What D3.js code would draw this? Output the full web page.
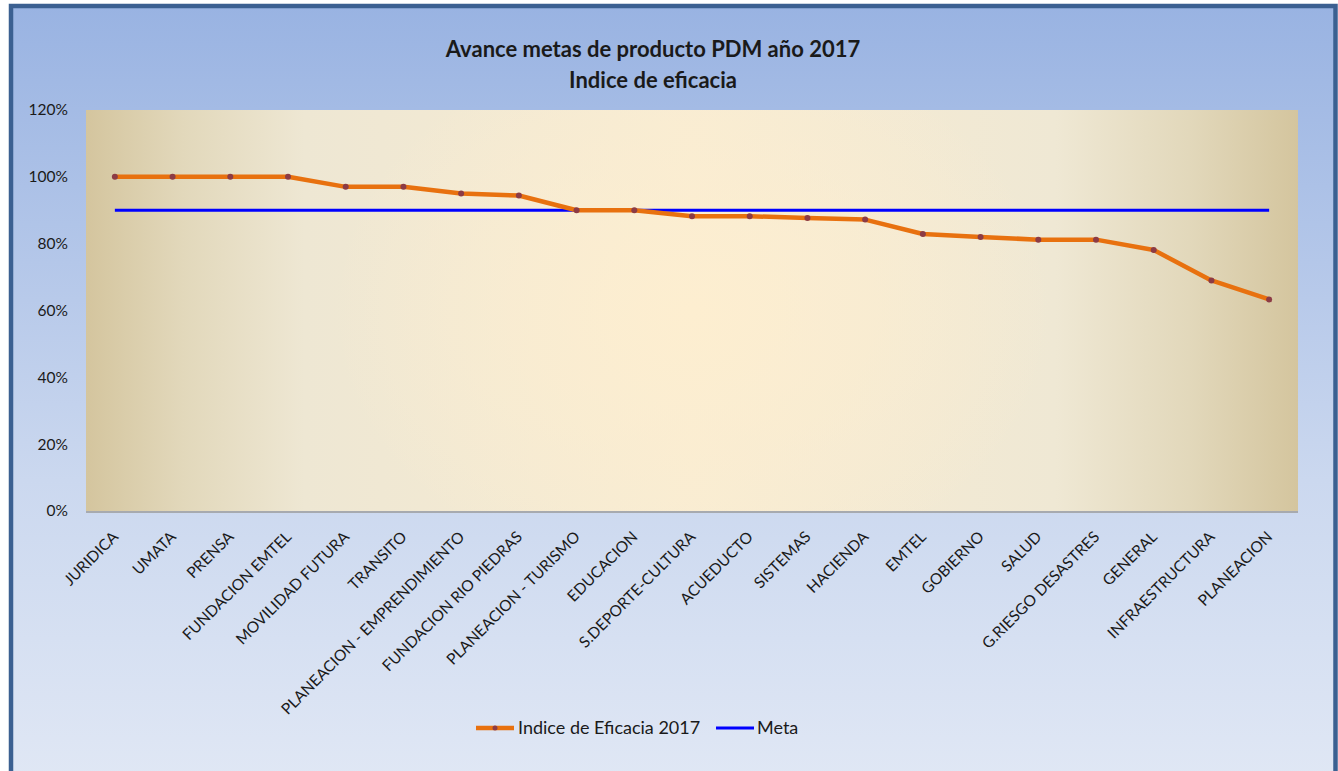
<!DOCTYPE html>
<html>
<head>
<meta charset="utf-8">
<script src="https://cdn.jsdelivr.net/npm/d3@7"></script>
<style>
  html, body { margin: 0; padding: 0; background: #fff; }
  svg { display: block; }
  text { font-family: Lato, "Open Sans", sans-serif; fill: #1a1a1a; }
</style>
</head>
<body>
<svg width="1338" height="771"></svg>
<script>
var categories = ["JURIDICA", "UMATA", "PRENSA", "FUNDACION EMTEL", "MOVILIDAD FUTURA", "TRANSITO",
  "PLANEACION - EMPRENDIMIENTO", "FUNDACION RIO PIEDRAS", "PLANEACION - TURISMO", "EDUCACION",
  "S.DEPORTE-CULTURA", "ACUEDUCTO", "SISTEMAS", "HACIENDA", "EMTEL", "GOBIERNO", "SALUD",
  "G.RIESGO DESASTRES", "GENERAL", "INFRAESTRUCTURA", "PLANEACION"];
var eficacia = [1.00, 1.00, 1.00, 1.00, 0.97, 0.97, 0.95, 0.944, 0.90, 0.90,
  0.882, 0.882, 0.877, 0.872, 0.829, 0.82, 0.812, 0.812, 0.781, 0.69, 0.633];
var meta = categories.map(function() { return 0.90; });
var yTicks = [0, 0.2, 0.4, 0.6, 0.8, 1.0, 1.2];
var titleLines = ["Avance metas de producto PDM año 2017", "Indice de eficacia"];
var seriesNames = ["Indice de Eficacia 2017", "Meta"];

var svg = d3.select("svg");
var defs = svg.append("defs");

// chart area background: vertical blue gradient
var bg = defs.append("linearGradient").attr("id", "bg")
    .attr("x1", 0).attr("y1", 0).attr("x2", 0).attr("y2", 1);
bg.append("stop").attr("offset", "0%").attr("stop-color", "#99b3e2");
bg.append("stop").attr("offset", "60%").attr("stop-color", "#cbd8ef");
bg.append("stop").attr("offset", "100%").attr("stop-color", "#e1e8f5");

// plot area: tan at the sides, cream towards the middle
var pg = defs.append("linearGradient").attr("id", "plotbg")
    .attr("x1", 0).attr("y1", 0).attr("x2", 1).attr("y2", 0);
pg.append("stop").attr("offset", "0%").attr("stop-color", "#d4c59e");
pg.append("stop").attr("offset", "8%").attr("stop-color", "#e2d8bb");
pg.append("stop").attr("offset", "18%").attr("stop-color", "#eee7d3");
pg.append("stop").attr("offset", "50%").attr("stop-color", "#f8ecd3");
pg.append("stop").attr("offset", "80%").attr("stop-color", "#efe8d4");
pg.append("stop").attr("offset", "91%").attr("stop-color", "#e2d8bb");
pg.append("stop").attr("offset", "100%").attr("stop-color", "#d4c59e");

var hl = defs.append("radialGradient").attr("id", "plothl")
    .attr("cx", 0.5).attr("cy", 0.5).attr("r", 0.5)
    .attr("gradientTransform", "translate(0.5,0.5) scale(0.6,1.4) translate(-0.5,-0.5)");
hl.append("stop").attr("offset", "0%").attr("stop-color", "#fdeed0").attr("stop-opacity", 1);
hl.append("stop").attr("offset", "100%").attr("stop-color", "#fdeed0").attr("stop-opacity", 0);

svg.append("rect")
    .attr("x", 11).attr("y", 6).attr("width", 1324.5).attr("height", 790)
    .attr("fill", "url(#bg)")
    .attr("stroke", "#3b6091").attr("stroke-width", 4.5);

var plot = { left: 86, top: 110, right: 1298, bottom: 511 };

var x = d3.scalePoint()
    .domain(categories)
    .range([plot.left, plot.right])
    .padding(0.5);

var y = d3.scaleLinear()
    .domain([0, 1.2])
    .range([plot.bottom, plot.top]);

svg.append("rect")
    .attr("x", plot.left).attr("y", plot.top)
    .attr("width", plot.right - plot.left).attr("height", plot.bottom - plot.top)
    .attr("fill", "url(#plotbg)");
svg.append("rect")
    .attr("x", plot.left).attr("y", plot.top)
    .attr("width", plot.right - plot.left).attr("height", plot.bottom - plot.top)
    .attr("fill", "url(#plothl)");

// bottom axis line
svg.append("line")
    .attr("x1", plot.left).attr("x2", plot.right)
    .attr("y1", plot.bottom + 1).attr("y2", plot.bottom + 1)
    .attr("stroke", "#9a9a9a").attr("stroke-width", 1.5);

// y axis labels
var yAxis = svg.append("g")
    .attr("transform", "translate(" + (plot.left - 18) + ",0)")
    .call(d3.axisLeft(y).tickValues(yTicks).tickFormat(d3.format(".0%")).tickSize(0).tickPadding(0));
yAxis.select(".domain").remove();
yAxis.selectAll("text")
    .attr("font-size", 15.5).attr("fill", "#1a1a1a")
    .style("font-family", "Lato, sans-serif");

// x axis labels, rotated
var xAxis = svg.append("g")
    .attr("transform", "translate(0," + plot.bottom + ")")
    .call(d3.axisBottom(x).tickSize(0).tickPadding(0));
xAxis.select(".domain").remove();
xAxis.selectAll("text")
    .attr("font-size", 15.5).attr("fill", "#1a1a1a")
    .style("font-family", "Lato, sans-serif")
    .attr("text-anchor", "end")
    .attr("y", 0).attr("dy", "0.35em")
    .attr("transform", "translate(0,23) rotate(-45)");

// meta line
var line = d3.line()
    .x(function(d, i) { return x(categories[i]); })
    .y(function(d) { return y(d); });

svg.append("path")
    .datum(meta)
    .attr("fill", "none")
    .attr("stroke", "#0000ff")
    .attr("stroke-width", 3)
    .attr("d", line);

// eficacia line
svg.append("path")
    .datum(eficacia)
    .attr("fill", "none")
    .attr("stroke", "#e8710f")
    .attr("stroke-width", 4.5)
    .attr("stroke-linejoin", "round")
    .attr("d", line);

svg.append("g").selectAll("circle")
    .data(eficacia)
    .enter().append("circle")
      .attr("cx", function(d, i) { return x(categories[i]); })
      .attr("cy", function(d) { return y(d); })
      .attr("r", 3)
      .attr("fill", "#8c3b45");

// title
svg.append("g").selectAll("text")
    .data(titleLines)
    .enter().append("text")
      .attr("x", 653)
      .attr("y", function(d, i) { return 57 + i * 31; })
      .attr("text-anchor", "middle")
      .attr("font-size", 22)
      .attr("font-weight", "bold")
      .text(function(d) { return d; });

// legend
var legend = svg.append("g").attr("transform", "translate(0,728)");
legend.append("line").attr("x1", 476).attr("x2", 514)
    .attr("stroke", "#e8710f").attr("stroke-width", 4.5);
legend.append("circle").attr("cx", 495).attr("r", 2.5).attr("fill", "#8c3b45");
legend.append("text").attr("x", 518).attr("dy", "0.35em")
    .attr("font-size", 18).text(seriesNames[0]);
legend.append("line").attr("x1", 716).attr("x2", 754)
    .attr("stroke", "#0000ff").attr("stroke-width", 3);
legend.append("text").attr("x", 757).attr("dy", "0.35em")
    .attr("font-size", 18).text(seriesNames[1]);
</script>
</body>
</html>
